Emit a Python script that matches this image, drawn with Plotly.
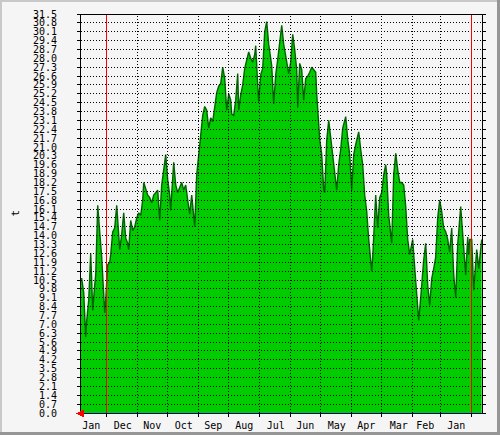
import pandas as pd
import plotly.graph_objects as go

# ---- data ----
start_date = "2018-12-22"
day_offsets = [401, 400, 398, 396, 395, 393, 391, 390, 389, 387, 386, 384, 383, 382, 380, 378, 377, 376, 375, 374,
               372, 371, 369, 367, 365, 363, 362, 360, 358, 356, 354, 353, 351, 349, 347, 345, 343, 341, 339, 338,
               336, 334, 332, 330, 328, 326, 324, 322, 320, 318, 316, 314, 312, 311, 309, 308, 306, 304, 302, 300,
               298, 296, 294, 292, 290, 289, 287, 285, 283, 281, 279, 277, 275, 273, 271, 269, 267, 265, 263, 261,
               259, 257, 255, 253, 251, 250, 248, 246, 244, 243, 241, 239, 237, 235, 233, 231, 229, 227, 226, 224,
               223, 221, 219, 217, 215, 213, 211, 210, 208, 206, 204, 202, 200, 198, 196, 194, 193, 191, 189, 187,
               185, 184, 182, 180, 178, 176, 174, 172, 170, 168, 166, 165, 164, 162, 160, 158, 157, 155, 153, 151,
               149, 147, 145, 143, 141, 139, 136, 134, 132, 130, 128, 126, 123, 121, 119, 117, 115, 113, 111, 110,
               109, 107, 106, 104, 102, 100, 98, 96, 95, 93, 91, 90, 88, 86, 84, 82, 80, 78, 76, 74,
               72, 70, 69, 68, 66, 64, 63, 61, 59, 58, 56, 54, 52, 50, 48, 46, 44, 42, 40, 38,
               36, 34, 32, 30, 28, 26, 24, 22, 21, 19, 17, 16, 14, 13, 12, 10, 8, 6, 5, 3,
               1, 0]
t_values = [10.6, 10.6, 9.5, 6.0, 7.3, 8.9, 12.6, 9.7, 8.1, 10.1, 10.9, 16.4, 15.6, 14.3, 12.3, 8.9, 7.9, 8.9, 10.1, 11.7,
            11.9, 12.5, 14.3, 14.6, 16.4, 13.7, 12.9, 14.1, 15.8, 13.8, 13.4, 12.9, 15.2, 14.4, 14.7, 15.4, 15.8, 15.6, 16.8, 18.2,
            17.6, 17.2, 17.0, 16.6, 17.2, 17.4, 17.6, 15.2, 18.0, 19.2, 20.4, 18.4, 17.2, 16.0, 18.8, 19.8, 18.0, 17.4, 17.8, 18.2,
            17.6, 18.0, 16.8, 15.7, 17.2, 16.4, 14.7, 18.8, 20.4, 22.3, 23.5, 24.2, 23.9, 22.5, 23.3, 23.0, 24.2, 25.3, 25.8, 26.0,
            27.3, 26.4, 23.9, 25.2, 24.7, 23.6, 23.5, 24.7, 26.8, 23.9, 25.1, 25.9, 27.2, 27.9, 28.5, 28.0, 27.7, 28.3, 29.0, 25.9,
            24.6, 26.7, 27.2, 30.1, 30.9, 29.1, 28.0, 27.4, 24.4, 26.7, 27.9, 29.3, 30.6, 29.1, 28.3, 27.2, 26.8, 27.7, 29.9, 28.7,
            27.1, 24.1, 27.6, 27.1, 24.7, 26.4, 26.6, 26.9, 27.3, 27.1, 26.9, 25.2, 23.9, 21.6, 20.4, 17.6, 17.4, 21.5, 23.1, 21.6,
            20.4, 18.8, 17.6, 19.6, 20.8, 22.5, 23.4, 21.6, 20.4, 17.6, 20.4, 21.2, 22.2, 20.8, 19.6, 17.2, 15.9, 13.7, 11.9, 11.2,
            12.3, 16.6, 17.2, 14.6, 17.0, 17.4, 18.8, 19.6, 18.8, 15.6, 14.1, 13.4, 18.8, 20.5, 19.2, 18.2, 18.2, 18.0, 16.3, 13.7,
            12.5, 13.3, 13.7, 12.5, 10.3, 8.5, 7.3, 9.1, 11.7, 12.1, 13.4, 10.1, 8.5, 10.6, 11.4, 12.3, 15.4, 16.8, 15.9, 14.6,
            14.3, 13.7, 12.7, 14.6, 10.9, 9.1, 13.3, 15.4, 16.3, 14.1, 11.7, 10.9, 13.9, 12.5, 13.7, 13.7, 9.7, 11.7, 12.9, 11.4,
            12.9, 13.7]
y_max = 31.5
y_step = 0.7
x_range = ["2020-01-26 17:00", "2018-12-21 17:00"]   # reversed time axis
year_marks = ["2019-01-01", "2020-01-01"]

dates = pd.to_datetime(start_date) + pd.to_timedelta(day_offsets, unit="D")

MONO = "DejaVu Sans Mono"
fig = go.Figure()
fig.add_trace(go.Scatter(
    x=dates, y=t_values, mode="lines", fill="tozeroy",
    fillcolor="#00CC00", line=dict(color="#006400", width=1.4),
    hoverinfo="skip", showlegend=False))

shapes = []
# horizontal dotted grid (above data)
n_steps = int(round(y_max / y_step))
for i in range(1, n_steps):
    yv = round(i * y_step, 1)
    shapes.append(dict(type="line", xref="paper", yref="y", x0=0, x1=1, y0=yv, y1=yv,
                       line=dict(color="#000000", width=1, dash="1px,2px"), layer="above"))
# vertical dotted grid at month starts
months = pd.date_range("2019-02-01", "2019-12-01", freq="MS")
for m in months:
    shapes.append(dict(type="line", xref="x", yref="paper", x0=m, x1=m, y0=0, y1=1,
                       line=dict(color="#000000", width=1, dash="1px,2px"), layer="above"))
# red year marks
for d in year_marks:
    shapes.append(dict(type="line", xref="x", yref="paper", x0=d, x1=d, y0=0, y1=1,
                       line=dict(color="#FF0000", width=1), layer="above"))
# top frame line
shapes.append(dict(type="line", xref="paper", yref="paper", x0=0, x1=1, y0=1, y1=1,
                   line=dict(color="#000000", width=1), layer="above"))
# red arrow at origin
shapes.append(dict(type="path", xref="paper", yref="paper",
                   path="M -0.010 -0.0012 L 0.005 0.0063 L 0.005 -0.0088 Z",
                   fillcolor="#FF0000", line=dict(color="#FF0000", width=1), layer="above"))
# outer 3D border (light top/left, dark bottom/right)
W, H, L, T, R, B = 500, 435, 81, 14, 18, 22
pw, ph = W - L - R, H - T - B
def px_x(p):
    return (p - L) / pw
def px_y(p):
    return (H - B - p) / ph
shapes.append(dict(type="rect", xref="paper", yref="paper", x0=px_x(0), x1=px_x(500), y0=px_y(0), y1=px_y(2),
                   fillcolor="#C8C8C8", line=dict(width=0), layer="above"))
shapes.append(dict(type="rect", xref="paper", yref="paper", x0=px_x(0), x1=px_x(2), y0=px_y(0), y1=px_y(435),
                   fillcolor="#C8C8C8", line=dict(width=0), layer="above"))
shapes.append(dict(type="rect", xref="paper", yref="paper", x0=px_x(0), x1=px_x(500), y0=px_y(432), y1=px_y(435),
                   fillcolor="#969696", line=dict(width=0), layer="above"))
shapes.append(dict(type="rect", xref="paper", yref="paper", x0=px_x(497), x1=px_x(500), y0=px_y(0), y1=px_y(435),
                   fillcolor="#969696", line=dict(width=0), layer="above"))

fig.update_layout(
    width=W, height=H, autosize=False,
    margin=dict(l=L, r=R, t=T, b=B, pad=0, autoexpand=False),
    paper_bgcolor="#F5F5F5", plot_bgcolor="#F5F5F5",
    font=dict(family=MONO, size=10, color="#000000"),
    shapes=shapes,
    showlegend=False,
    annotations=[dict(text="t", xref="paper", yref="paper", x=px_x(15), y=0.5,
                      textangle=-90, showarrow=False, font=dict(family=MONO, size=11, color="#000000"),
                      xanchor="center", yanchor="middle")],
)
fig.update_xaxes(
    type="date", range=x_range, autorange=False, automargin=False,
    showgrid=False, zeroline=False,
    showline=True, linecolor="#000080", linewidth=1,
    ticks="outside", ticklen=3, tickcolor="#000000",
    dtick="M1", tick0="2019-01-01", tickformat="%b", ticklabelmode="period",
    tickfont=dict(family=MONO, size=10, color="#000000"),
)
fig.update_yaxes(
    range=[0, y_max], autorange=False, automargin=False,
    showgrid=False, zeroline=False,
    showline=True, linecolor="#000000", linewidth=1, mirror="ticks",
    ticks="outside", ticklen=3, tickcolor="#000000",
    dtick=y_step, tick0=0, tickformat=".1f",
    tickfont=dict(family=MONO, size=10, color="#000000"),
    ticklabelstandoff=18,
)
post = (
    "document.body.style.margin='0';document.body.style.padding='0';"
    "document.body.style.overflow='hidden';"
    "document.querySelectorAll('.shapelayer path').forEach(function(p){p.style.shapeRendering='crispEdges';});"
)
fig.write_html("out.html", post_script=post, config={"displayModeBar": False, "staticPlot": True})
